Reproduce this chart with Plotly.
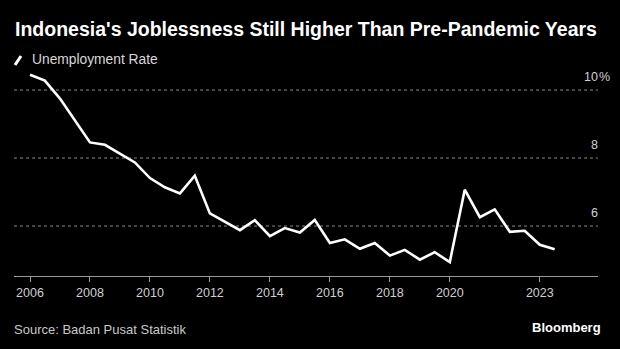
import plotly.graph_objects as go

# Semiannual unemployment rate (Feb, Aug), %
periods = [
    "2006-01-01", "2006-07-01", "2007-01-01", "2007-07-01", "2008-01-01", "2008-07-01",
    "2009-01-01", "2009-07-01", "2010-01-01", "2010-07-01", "2011-01-01", "2011-07-01",
    "2012-01-01", "2012-07-01", "2013-01-01", "2013-07-01", "2014-01-01", "2014-07-01",
    "2015-01-01", "2015-07-01", "2016-01-01", "2016-07-01", "2017-01-01", "2017-07-01",
    "2018-01-01", "2018-07-01", "2019-01-01", "2019-07-01", "2020-01-01", "2020-07-01",
    "2021-01-01", "2021-07-01", "2022-01-01", "2022-07-01", "2023-01-01", "2023-07-01",
]
unemployment = [
    10.45, 10.28, 9.75, 9.11, 8.46, 8.39,
    8.14, 7.87, 7.41, 7.14, 6.96, 7.48,
    6.37, 6.13, 5.88, 6.17, 5.70, 5.94,
    5.81, 6.18, 5.50, 5.61, 5.33, 5.50,
    5.13, 5.30, 5.01, 5.23, 4.94, 7.07,
    6.26, 6.49, 5.83, 5.86, 5.45, 5.32,
]
tick_dates = ["2006-01-01", "2008-01-01", "2010-01-01", "2012-01-01", "2014-01-01",
              "2016-01-01", "2018-01-01", "2020-01-01", "2023-01-01"]
tick_labels = ["2006", "2008", "2010", "2012", "2014", "2016", "2018", "2020", "2023"]
y_grid = [10, 8, 6]
y_labels = ["10", "8", "6"]

W, H = 620, 349
L, R, T, B = 14, 22, 70, 73

fig = go.Figure()
fig.add_trace(go.Scatter(
    x=periods, y=unemployment, mode="lines",
    line=dict(color="#ffffff", width=2.6),
    hoverinfo="skip", showlegend=False,
))

for v in y_grid:
    fig.add_shape(type="line", xref="paper", yref="y", x0=0, x1=1, y0=v, y1=v,
                  line=dict(color="#8a8a8a", width=1, dash="dot"), layer="below")

annotations = []
for v, lab in zip(y_grid, y_labels):
    annotations.append(dict(xref="paper", yref="y", x=1.0, y=v, text=lab, showarrow=False,
                            xanchor="right", yanchor="middle", yshift=13, xshift=2,
                            font=dict(family="Liberation Sans", size=12.5, color="#d0d0d0")))
annotations.append(dict(xref="paper", yref="y", x=1.0, y=10, text="%", showarrow=False,
                        xanchor="left", yanchor="middle", yshift=13, xshift=-1,
                        font=dict(family="Liberation Sans", size=12.5, color="#d0d0d0")))

def px(xp):
    return (xp - L) / (W - L - R)

def py(yp):
    return (H - B - yp) / (H - T - B)

annotations += [
    dict(xref="paper", yref="paper", x=px(13), y=py(29), text="<b>Indonesia's Joblessness Still Higher Than Pre-Pandemic Years</b>",
         showarrow=False, xanchor="left", yanchor="middle",
         font=dict(family="Liberation Sans", size=19.5, color="#ffffff")),
    dict(xref="paper", yref="paper", x=px(30), y=py(59), text="Unemployment Rate",
         showarrow=False, xanchor="left", yanchor="middle",
         font=dict(family="Liberation Sans", size=13.8, color="#d8d8d8")),
    dict(xref="paper", yref="paper", x=px(12), y=py(329), text="Source: Badan Pusat Statistik",
         showarrow=False, xanchor="left", yanchor="middle",
         font=dict(family="Liberation Sans", size=13, color="#c8c8c8")),
    dict(xref="paper", yref="paper", x=px(603), y=py(327), text="<b>Bloomberg</b>",
         showarrow=False, xanchor="right", yanchor="middle",
         font=dict(family="Liberation Sans", size=13, color="#ffffff")),
]

fig.add_shape(type="line", xref="paper", yref="paper", x0=px(15), x1=px(21), y0=py(65), y1=py(56),
              line=dict(color="#ffffff", width=3))

fig.update_layout(
    width=W, height=H,
    margin=dict(l=L, r=R, t=T, b=B),
    paper_bgcolor="#000000", plot_bgcolor="#000000",
    annotations=annotations,
    xaxis=dict(
        type="date", range=["2005-06-20", "2024-12-10"],
        tickvals=tick_dates, ticktext=tick_labels,
        showgrid=False, zeroline=False,
        showline=True, linecolor="#9a9a9a", linewidth=1,
        ticks="outside", ticklen=5, tickcolor="#9a9a9a",
        tickfont=dict(family="Liberation Sans", size=12.5, color="#cfcfcf"),
        fixedrange=True,
    ),
    yaxis=dict(
        range=[4.53, 10.59], showgrid=False, zeroline=False,
        showticklabels=False, showline=False, fixedrange=True,
    ),
)

fig.write_html("out.html")
